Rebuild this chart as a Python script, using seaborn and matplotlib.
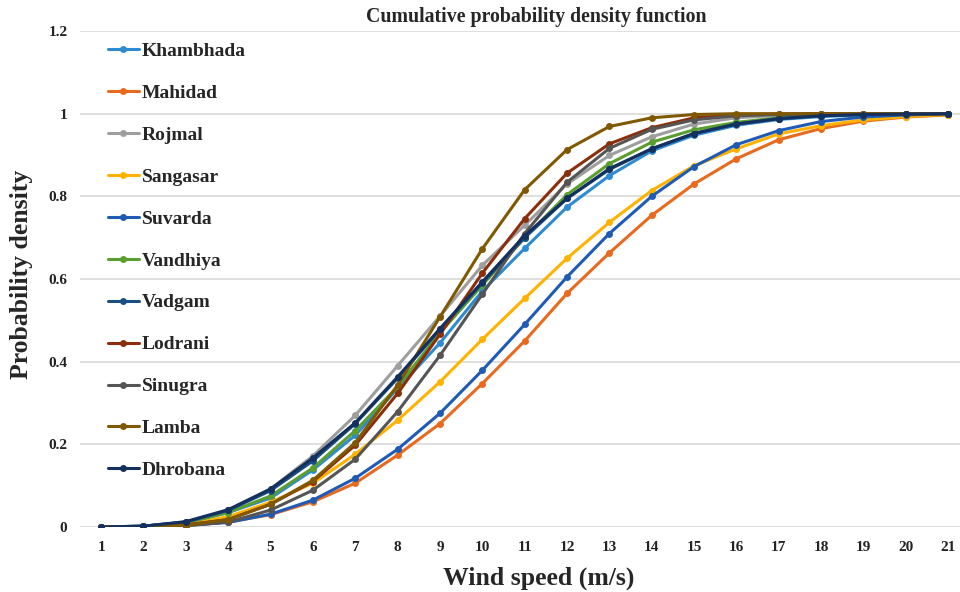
import numpy as np
import pandas as pd
import matplotlib
matplotlib.use("Agg")
import matplotlib.pyplot as plt
import seaborn as sns

# wind speed bins (m/s)
wind_speed = list(range(1, 22))

stations = ["Khambhada", "Mahidad", "Rojmal", "Sangasar", "Suvarda", "Vandhiya",
            "Vadgam", "Lodrani", "Sinugra", "Lamba", "Dhrobana"]

khambhada = [0, 0.002, 0.010, 0.035, 0.070, 0.138, 0.222, 0.335, 0.445, 0.571, 0.674,
             0.774, 0.850, 0.910, 0.948, 0.972, 0.986, 0.993, 0.997, 0.999, 1.000]
mahidad = [0, 0.001, 0.004, 0.012, 0.030, 0.061, 0.106, 0.174, 0.250, 0.347, 0.450,
           0.565, 0.663, 0.754, 0.830, 0.891, 0.937, 0.964, 0.982, 0.992, 0.997]
rojmal = [0, 0.002, 0.012, 0.040, 0.092, 0.172, 0.270, 0.390, 0.510, 0.633, 0.730,
          0.830, 0.899, 0.944, 0.975, 0.990, 0.996, 0.998, 0.999, 1.000, 1.000]
sangasar = [0, 0.001, 0.006, 0.025, 0.060, 0.106, 0.176, 0.258, 0.351, 0.454, 0.553,
            0.650, 0.737, 0.814, 0.874, 0.915, 0.951, 0.971, 0.985, 0.993, 0.998]
suvarda = [0, 0.001, 0.004, 0.011, 0.031, 0.065, 0.118, 0.188, 0.275, 0.379, 0.490,
           0.605, 0.710, 0.800, 0.872, 0.925, 0.959, 0.981, 0.992, 0.997, 1.000]
vandhiya = [0, 0.002, 0.010, 0.035, 0.075, 0.143, 0.233, 0.339, 0.470, 0.585, 0.700,
            0.804, 0.879, 0.931, 0.961, 0.979, 0.990, 0.996, 0.998, 0.999, 1.000]
vadgam = [0, 0.002, 0.012, 0.040, 0.088, 0.160, 0.250, 0.360, 0.478, 0.590, 0.700,
          0.795, 0.865, 0.915, 0.952, 0.975, 0.988, 0.995, 0.998, 0.999, 1.000]
lodrani = [0, 0.001, 0.005, 0.018, 0.055, 0.110, 0.198, 0.323, 0.466, 0.614, 0.746,
           0.856, 0.927, 0.966, 0.990, 0.997, 0.999, 1.000, 1.000, 1.000, 1.000]
sinugra = [0, 0.001, 0.003, 0.012, 0.041, 0.089, 0.164, 0.279, 0.415, 0.563, 0.710,
           0.834, 0.916, 0.962, 0.985, 0.995, 0.998, 0.999, 1.000, 1.000, 1.000]
lamba = [0, 0.001, 0.004, 0.018, 0.055, 0.113, 0.204, 0.343, 0.508, 0.673, 0.816,
         0.913, 0.969, 0.990, 0.998, 1.000, 1.000, 1.000, 1.000, 1.000, 1.000]
dhrobana = [0, 0.002, 0.013, 0.042, 0.092, 0.167, 0.252, 0.363, 0.480, 0.593, 0.705,
            0.795, 0.867, 0.915, 0.952, 0.975, 0.988, 0.995, 0.998, 0.999, 1.000]

series = [khambhada, mahidad, rojmal, sangasar, suvarda, vandhiya,
          vadgam, lodrani, sinugra, lamba, dhrobana]

colors = ["#2E8BD0", "#E86A1E", "#9E9E9E", "#FFB300", "#1F5BB5", "#5A9E2F",
          "#1B4F82", "#8B2E0B", "#555555", "#805800", "#14305F"]

df = pd.DataFrame({
    "speed": wind_speed * len(stations),
    "cdf": np.concatenate(series),
    "station": np.repeat(stations, len(wind_speed)),
})

sns.set_theme(style="whitegrid")
plt.rcParams["font.family"] = ["Liberation Serif", "DejaVu Serif"]

fig = plt.figure(figsize=(9.6, 5.92), dpi=100)
ax = fig.add_axes([0.0833, 0.1098, 0.9167, 0.8378])

sns.lineplot(data=df, x="speed", y="cdf", hue="station", hue_order=stations,
             palette=dict(zip(stations, colors)), marker="o", markersize=5,
             markeredgewidth=0, linewidth=2.2, ax=ax)

ax.set_xlim(0.5, 21.28)
ax.set_ylim(0, 1.2)
ax.set_xticks(wind_speed)
ax.set_yticks([0, 0.2, 0.4, 0.6, 0.8, 1.0, 1.2])
ax.set_yticklabels(["0", "0.2", "0.4", "0.6", "0.8", "1", "1.2"])
ax.grid(axis="x", visible=False)
ax.grid(axis="y", color="#d9d9d9", linewidth=1.2)
for s in ax.spines.values():
    s.set_visible(False)
ax.tick_params(axis="both", length=0, labelsize=11, colors="#222222")
ax.tick_params(axis="x", pad=10)
ax.tick_params(axis="y", pad=9)
for lab in ax.get_xticklabels() + ax.get_yticklabels():
    lab.set_fontweight("bold")

ax.set_xlabel("Wind speed (m/s)", fontsize=18.5, fontweight="bold", va="center")
ax.xaxis.set_label_coords(0.5216, -0.103)
ax.set_ylabel("Probability density", fontsize=18.5, fontweight="bold", va="center")
ax.yaxis.set_label_coords(-0.067, 0.51)
fig.text(0.559, 0.971, "Cumulative probability density function", ha="center",
         va="center", fontsize=14.3, fontweight="bold")

handles, labels = ax.get_legend_handles_labels()
ax.legend(handles, labels, loc="upper left", bbox_to_anchor=(0.094, 0.958),
          bbox_transform=fig.transFigure, frameon=False, labelspacing=1.25,
          handlelength=1.6, handletextpad=0.15,
          prop={"size": 14, "weight": "bold"})

plt.savefig("out.png", dpi=100)
plt.close()
